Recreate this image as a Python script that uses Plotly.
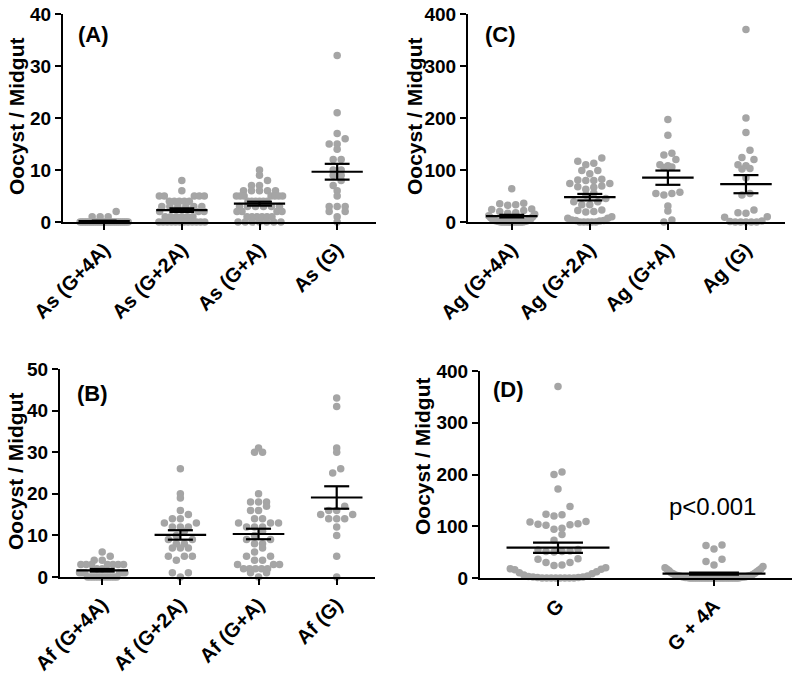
import numpy as np
import plotly.graph_objects as go

# ---------------- data ----------------
as_labels = ["As (G+4A)", "As (G+2A)", "As (G+A)", "As (G)"]
as_g4a = [0, 0, 0, 0, 0, 0, 0, 0, 0, 0, 0, 0, 0, 0, 0, 0, 0, 0, 0, 0, 0, 0, 0, 0, 0, 0, 1, 1, 1, 2]
as_g2a = [8, 6, 5, 5, 5, 5, 5, 4, 4, 4, 4, 4, 3, 3, 3, 3, 3, 3, 2, 2, 2, 1, 1, 1, 1, 1, 1,
          0, 0, 0, 0, 0, 0, 0, 0, 0, 0, 0, 0]
as_ga = [10, 9, 8, 7, 7, 6, 6, 6, 6, 6, 5, 5, 5, 5, 5, 5, 5, 4, 4, 4, 4, 4, 4, 3, 3, 3, 3, 3, 3,
         2, 2, 2, 2, 1, 1, 1, 1, 1, 1, 0, 0, 0, 0, 0, 0, 0]
as_g = [32, 21, 17, 16, 15, 15, 14, 12, 12, 10, 10, 9, 9, 8, 7, 6, 5, 3, 3, 3, 2, 2, 1, 0]

ag_labels = ["Ag (G+4A)", "Ag (G+2A)", "Ag (G+A)", "Ag (G)"]
ag_g4a = [64, 36, 35, 33, 32, 25, 24, 22, 20, 18, 17, 15, 12, 10, 8, 6, 5, 4, 3, 2, 2, 1, 1,
          0, 0, 0, 0, 0, 0, 0, 0, 0, 0, 0, 0]
ag_g2a = [123, 117, 113, 110, 99, 99, 93, 82, 81, 80, 80, 74, 74, 69, 68, 67, 63, 56, 52, 45,
          39, 39, 33, 33, 23, 22, 20, 19, 10, 7, 7, 4, 3, 3, 2, 0, 0, 0, 0, 0]
ag_ga = [197, 167, 132, 129, 120, 110, 108, 106, 105, 57, 55, 55, 52, 31, 21, 4, 0]
ag_g = [370, 200, 172, 138, 124, 120, 110, 108, 103, 102, 85, 55, 52, 23, 18, 17, 10, 9, 2, 1,
        0, 0, 0, 0, 0]

af_labels = ["Af (G+4A)", "Af (G+2A)", "Af (G+A)", "Af (G)"]
af_g4a = [6, 5, 4, 4, 3, 3, 3, 3, 3, 3, 3, 2, 2, 1, 1, 1, 1, 1, 1,
          0, 0, 0, 0, 0, 0, 0, 0, 0, 0, 0, 0]
af_g2a = [26, 20, 19, 16, 15, 14, 14, 13, 13, 12, 12, 12, 11, 10, 9, 9, 8, 8, 7, 7, 7, 5, 5, 5,
          4, 1, 1, 0]
af_ga = [31, 30, 30, 20, 18, 18, 18, 17, 16, 16, 14, 14, 13, 13, 13, 12, 12, 12, 11, 10, 9, 9,
         8, 8, 7, 6, 5, 5, 4, 4, 3, 3, 3, 2, 2, 2, 2, 2, 1, 1, 0]
af_g = [43, 41, 31, 30, 26, 25, 17, 16, 16, 15, 15, 14, 14, 14, 12, 10, 5, 0]

d_labels = ["G", "G + 4A"]
d_g = [370, 205, 200, 172, 138, 123, 122, 120, 109, 108, 105, 104, 103, 102, 96, 94, 84, 73,
       55, 54, 52, 51, 51, 50, 37, 36, 30, 30, 25, 24, 20, 18, 17, 16, 12, 10, 8, 6, 4, 3, 2, 2,
       1, 1, 0, 0, 0, 0, 0, 0, 0, 0]
d_g4a = [64, 63, 56, 36, 32, 25, 22, 20, 18, 17, 15, 14, 12, 10, 9, 8, 7, 6, 5, 5, 4, 4, 3, 3,
         2, 2, 2, 1, 1, 1, 0, 0, 0, 0, 0, 0, 0, 0, 0, 0, 0, 0, 0, 0, 0, 0, 0, 0, 0, 0, 0, 0, 0,
         0, 0]

y_ticks_a = [0, 10, 20, 30, 40]
y_ticks_c = [0, 100, 200, 300, 400]
y_ticks_b = [0, 10, 20, 30, 40, 50]
y_ticks_d = [0, 100, 200, 300, 400]
y_title = "Oocyst / Midgut"
p_text = "p<0.001"

# ---------------- layout geometry (pixels) ----------------
W, H = 800, 675
FONT = "Liberation Sans, Arial, Helvetica, sans-serif"
DOT = 7.5
STEP = 8.0

panels = [
    dict(ax="", groups=[as_g4a, as_g2a, as_ga, as_g], labels=as_labels, xpx=(63, 376),
         ypx=(14, 222), yr=(0, 40), xr=(-0.53, 3.5), yt=y_ticks_a, maxw=50, bin=8, boff=0.5,
         tx=17, ty=116, lab="(A)", lx=93, ly=34),
    dict(ax="2", groups=[ag_g4a, ag_g2a, ag_ga, ag_g], labels=ag_labels, xpx=(468, 785),
         ypx=(14, 222), yr=(0, 400), xr=(-0.56, 3.5), yt=y_ticks_c, maxw=48, bin=8, boff=0.0,
         tx=415, ty=116, lab="(C)", lx=500, ly=34),
    dict(ax="3", groups=[af_g4a, af_g2a, af_ga, af_g], labels=af_labels, xpx=(60, 375),
         ypx=(369, 577), yr=(0, 50), xr=(-0.54, 3.49), yt=y_ticks_b, maxw=48, bin=8, boff=0.0,
         tx=15, ty=471, lab="(B)", lx=92, ly=393),
    dict(ax="4", groups=[d_g, d_g4a], labels=d_labels, xpx=(480, 792),
         ypx=(371, 578), yr=(0, 400), xr=(-0.5, 1.5), yt=y_ticks_d, maxw=100, bin=12, boff=0.0,
         tx=422, ty=456, lab="(D)", lx=508, ly=390),
]


def swarm(vals, center, py, pc, maxw, binh, boff):
    """GraphPad-like column scatter: bin by pixel height, spread centre-out."""
    vals = np.asarray(vals, dtype=float)
    bins = np.floor(vals * py / binh + boff).astype(int)
    xs = np.zeros(len(vals))
    for b in np.unique(bins):
        idx = np.where(bins == b)[0]
        idx = idx[np.argsort(vals[idx], kind="stable")]
        k = len(idx)
        step = min(STEP, maxw / max(k, 1))
        pos = (np.arange(k) - (k - 1) / 2.0) * step
        order = np.argsort(np.abs(pos) + np.arange(k) * 1e-6, kind="stable")
        for j, i in enumerate(idx):
            xs[i] = center + pos[order[j]] / pc
    return xs, vals


fig = go.Figure()
annotations = []
layout = {}

for p in panels:
    ax = p["ax"]
    x0, x1 = p["xpx"]
    ytop, yzero = p["ypx"]
    py = (yzero - ytop) / (p["yr"][1] - p["yr"][0])
    pc = (x1 - x0) / (p["xr"][1] - p["xr"][0])
    xref = "x" + ax
    yref = "y" + ax
    for i, g in enumerate(p["groups"]):
        xs, ys = swarm(g, i, py, pc, p["maxw"], p["bin"], p["boff"])
        fig.add_trace(go.Scatter(x=xs, y=ys, mode="markers", xaxis=xref, yaxis=yref,
                                 marker=dict(size=DOT, color="#a5a5a5", line=dict(width=0)),
                                 cliponaxis=False, showlegend=False, hoverinfo="y"))
    for i, g in enumerate(p["groups"]):
        arr = np.asarray(g, dtype=float)
        m = arr.mean()
        s = arr.std(ddof=1) / np.sqrt(len(arr))
        fig.add_trace(go.Scatter(
            x=[i - 0.33, i + 0.33, None, i - 0.16, i + 0.16, None, i, i, None, i - 0.16, i + 0.16],
            y=[m, m, None, m + s, m + s, None, m + s, m - s, None, m - s, m - s],
            mode="lines", line=dict(color="black", width=2.2), xaxis=xref, yaxis=yref,
            cliponaxis=False, showlegend=False, hoverinfo="skip"))

    layout["xaxis" + ax] = dict(
        domain=[x0 / W, x1 / W], range=list(p["xr"]), anchor=yref, automargin=False,
        tickmode="array", tickvals=list(range(len(p["labels"]))),
        ticktext=["<b>" + t + "</b>" for t in p["labels"]],
        tickangle=-45, ticks="outside", ticklen=6, tickwidth=2, tickcolor="black",
        showline=True, linewidth=2.2, linecolor="black", showgrid=False, zeroline=False,
        tickfont=dict(family=FONT, size=20, color="black"), fixedrange=True)
    layout["yaxis" + ax] = dict(
        domain=[(H - yzero) / H, (H - ytop) / H], range=list(p["yr"]), anchor=xref,
        automargin=False, tickmode="array", tickvals=p["yt"],
        ticktext=["<b>%d</b>" % t for t in p["yt"]], ticks="outside", ticklen=6, tickwidth=2,
        tickcolor="black", showline=True, linewidth=2.2, linecolor="black", showgrid=False,
        zeroline=False, tickfont=dict(family=FONT, size=19, color="black"),
        fixedrange=True)
    annotations.append(dict(text="<b>" + y_title + "</b>", x=p["tx"] / W, y=1 - p["ty"] / H,
                            xref="paper", yref="paper", textangle=-90, showarrow=False,
                            font=dict(family=FONT, size=21, color="black"),
                            xanchor="center", yanchor="middle"))
    annotations.append(dict(text="<b>" + p["lab"] + "</b>", x=p["lx"] / W, y=1 - p["ly"] / H,
                            xref="paper", yref="paper", showarrow=False,
                            font=dict(family=FONT, size=22, color="black"),
                            xanchor="center", yanchor="middle"))

annotations.append(dict(text=p_text, x=712 / W, y=1 - 507 / H, xref="paper", yref="paper",
                        showarrow=False, font=dict(family=FONT, size=24, color="black"),
                        xanchor="center", yanchor="middle"))

fig.update_layout(template="none", width=W, height=H, margin=dict(l=0, r=0, t=0, b=0, pad=0),
                  paper_bgcolor="white", plot_bgcolor="white", annotations=annotations,
                  showlegend=False, **layout)

fig.write_html("out.html", config={"displayModeBar": False},
               post_script="document.body.style.margin='0px';"
                           "document.body.style.overflow='hidden';")
